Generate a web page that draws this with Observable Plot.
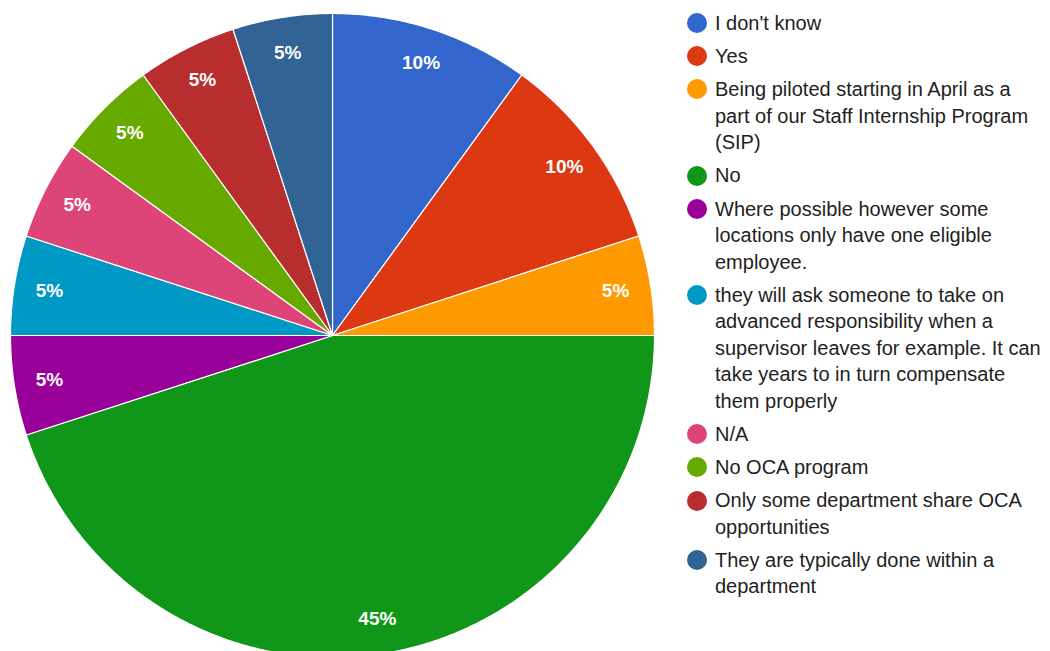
<!DOCTYPE html>
<html>
<head>
<meta charset="utf-8">
<script src="https://cdn.jsdelivr.net/npm/d3@7"></script>
<script src="https://cdn.jsdelivr.net/npm/@observablehq/plot@0.6"></script>
<style>
  html, body { margin: 0; padding: 0; background: #fff; }
  #wrap { position: relative; width: 1050px; height: 651px; overflow: hidden; }
  #chart { position: absolute; left: 0; top: 0; }
  #legend { position: absolute; left: 687px; top: 9.75px; width: 358px;
    font-family: "Liberation Sans", Arial, sans-serif; font-size: 20px; color: #222; line-height: 26.5px; }
  .item { display: flex; align-items: flex-start; margin-bottom: 6.7px; }
  .sw { flex: 0 0 20px; width: 20px; height: 20px; border-radius: 50%; margin-top: 3.25px; margin-right: 8px; }
  .lbl { flex: 1 1 auto; }
</style>
</head>
<body>
<div id="wrap">
  <div id="chart"></div>
  <div id="legend"></div>
</div>
<script>
const categories = [
  "I don't know",
  "Yes",
  "Being piloted starting in April as a part of our Staff Internship Program (SIP)",
  "No",
  "Where possible however some locations only have one eligible employee.",
  "they will ask someone to take on advanced responsibility when a supervisor leaves for example. It can take years to in turn compensate them properly",
  "N/A",
  "No OCA program",
  "Only some department share OCA opportunities",
  "They are typically done within a department"
];
const values = [10, 10, 5, 45, 5, 5, 5, 5, 5, 5];
const pctLabels = ["10%", "10%", "5%", "45%", "5%", "5%", "5%", "5%", "5%", "5%"];
const colors = ["#3366cc", "#dc3912", "#ff9900", "#109618", "#990099", "#0099c6", "#dd4477", "#66aa00", "#b82e2e", "#316395"];

// Build slice outlines from the values (angles clockwise from 12 o'clock)
const total = d3.sum(values);
const slicePts = [];
const labelPts = [];
let acc = 0;
categories.forEach((cat, i) => {
  const a0 = acc / total * 2 * Math.PI;
  acc += values[i];
  const a1 = acc / total * 2 * Math.PI;
  const n = Math.max(2, Math.ceil((a1 - a0) / (Math.PI / 360)));
  slicePts.push({cat, x: 0, y: 0});
  for (let k = 0; k <= n; k++) {
    const a = a0 + (a1 - a0) * k / n;
    slicePts.push({cat, x: Math.sin(a), y: Math.cos(a)});
  }
  slicePts.push({cat, x: 0, y: 0});
  const am = (a0 + a1) / 2;
  const lr = 0.89;
  labelPts.push({cat, label: pctLabels[i], x: lr * Math.sin(am), y: lr * Math.cos(am)});
});

const W = 680, H = 651, cx = 332, cy = 335, R = 322;
const plot = Plot.plot({
  width: W,
  height: H,
  margin: 0,
  x: {domain: [-cx / R, (W - cx) / R], axis: null},
  y: {domain: [-(H - cy) / R, cy / R], axis: null},
  color: {domain: categories, range: colors},
  style: {background: "transparent"},
  marks: [
    Plot.line(slicePts, {x: "x", y: "y", z: "cat", fill: "cat", stroke: "white", strokeWidth: 1.2, curve: "linear"}),
    Plot.text(labelPts, {x: "x", y: "y", text: "label", fill: "white", fontSize: 19, fontWeight: "bold",
      fontFamily: "'Liberation Sans', Arial, sans-serif"})
  ]
});
document.getElementById("chart").appendChild(plot);

const legend = document.getElementById("legend");
categories.forEach((c, i) => {
  const item = document.createElement("div");
  item.className = "item";
  const sw = document.createElement("span");
  sw.className = "sw";
  sw.style.background = colors[i];
  const t = document.createElement("span");
  t.className = "lbl";
  t.textContent = c;
  item.appendChild(sw);
  item.appendChild(t);
  legend.appendChild(item);
});
</script>
</body>
</html>
